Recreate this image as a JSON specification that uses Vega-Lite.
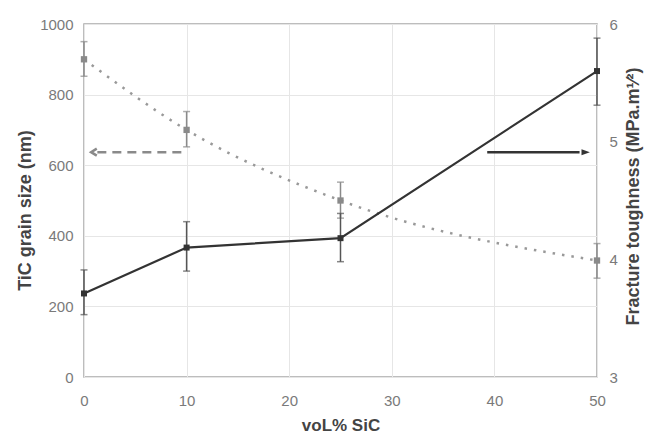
{
  "$schema": "https://vega.github.io/schema/vega-lite/v6.json",
  "width": 513,
  "height": 353,
  "autosize": {"type": "none"},
  "padding": {"left": 84, "top": 24, "right": 48, "bottom": 57},
  "background": "white",
  "config": {
    "view": {"stroke": "#a8a8a8", "strokeWidth": 1.5},
    "font": "Liberation Sans",
    "axis": {
      "labelFont": "Liberation Sans",
      "titleFont": "Liberation Sans",
      "labelFontSize": 15,
      "labelColor": "#7a7a7a",
      "titleFontSize": 17,
      "titleFontWeight": "bold",
      "titleColor": "#444444",
      "ticks": false,
      "domain": false,
      "labelFlush": false,
      "gridColor": "#e6e6e6",
      "gridWidth": 1
    }
  },
  "datasets": {
    "grain": [
      {"vol": 0, "size": 900, "lo": 852, "hi": 950},
      {"vol": 10, "size": 700, "lo": 652, "hi": 752},
      {"vol": 25, "size": 500, "lo": 450, "hi": 552},
      {"vol": 50, "size": 330, "lo": 280, "hi": 378}
    ],
    "tough": [
      {"vol": 0, "k": 3.71, "lo": 3.53, "hi": 3.91},
      {"vol": 10, "k": 4.1, "lo": 3.9, "hi": 4.32},
      {"vol": 25, "k": 4.18, "lo": 3.98, "hi": 4.39},
      {"vol": 50, "k": 5.6, "lo": 5.31, "hi": 5.88}
    ],
    "arrowLeft": [{"x1": 1.3, "x2": 9.7, "y": 637, "head": 0.9}],
    "arrowRight": [{"x1": 39.3, "x2": 48.3, "y": 4.91, "head": 48.9}]
  },
  "layer": [
    {
      "encoding": {
        "x": {
          "type": "quantitative",
          "scale": {"domain": [0, 50], "nice": false},
          "axis": {
            "title": "voL% SiC",
            "values": [0, 10, 20, 30, 40, 50],
            "format": "d",
            "grid": true,
            "labelPadding": 16,
            "titlePadding": 9
          }
        }
      },
      "layer": [
        {
          "data": {"name": "grain"},
          "mark": {"type": "line", "color": "#999999", "strokeWidth": 2.5, "strokeDash": [2.5, 7], "interpolate": "monotone"},
          "encoding": {
            "x": {"field": "vol", "type": "quantitative"},
            "y": {
              "field": "size",
              "type": "quantitative",
              "scale": {"domain": [0, 1000], "nice": false},
              "axis": {
                "title": "TiC grain size (nm)",
                "titleFontSize": 18,
                "titleX": -59,
                "titleY": 186,
                "titleAngle": 270,
                "titleAlign": "center",
                "titleBaseline": "middle",
                "values": [0, 200, 400, 600, 800, 1000],
                "format": "d",
                "grid": true,
                "labelPadding": 11
              }
            }
          }
        },
        {
          "data": {"name": "grain"},
          "mark": {"type": "rule", "color": "#8a8a8a", "strokeWidth": 1.5},
          "encoding": {
            "x": {"field": "vol", "type": "quantitative"},
            "y": {"field": "lo", "type": "quantitative"},
            "y2": {"field": "hi"}
          }
        },
        {
          "data": {"name": "grain"},
          "mark": {"type": "tick", "color": "#8a8a8a", "orient": "horizontal", "size": 7, "thickness": 1.5},
          "encoding": {
            "x": {"field": "vol", "type": "quantitative"},
            "y": {"field": "lo", "type": "quantitative"}
          }
        },
        {
          "data": {"name": "grain"},
          "mark": {"type": "tick", "color": "#8a8a8a", "orient": "horizontal", "size": 7, "thickness": 1.5},
          "encoding": {
            "x": {"field": "vol", "type": "quantitative"},
            "y": {"field": "hi", "type": "quantitative"}
          }
        },
        {
          "data": {"name": "grain"},
          "mark": {"type": "point", "shape": "square", "filled": true, "color": "#8a8a8a", "size": 40, "opacity": 1},
          "encoding": {
            "x": {"field": "vol", "type": "quantitative"},
            "y": {"field": "size", "type": "quantitative"}
          }
        },
        {
          "data": {"name": "arrowLeft"},
          "mark": {"type": "rule", "color": "#8a8a8a", "strokeWidth": 2.5, "strokeDash": [9, 6]},
          "encoding": {
            "x": {"field": "x1", "type": "quantitative"},
            "x2": {"field": "x2"},
            "y": {"field": "y", "type": "quantitative"}
          }
        },
        {
          "data": {"name": "arrowLeft"},
          "mark": {"type": "point", "shape": "M1,-1L-0.6,0L1,1", "filled": false, "color": "#8a8a8a", "strokeWidth": 2.5, "size": 50, "opacity": 1},
          "encoding": {
            "x": {"field": "head", "type": "quantitative"},
            "y": {"field": "y", "type": "quantitative"}
          }
        }
      ]
    },
    {
      "encoding": {
        "x": {"type": "quantitative"}
      },
      "layer": [
        {
          "data": {"name": "tough"},
          "mark": {"type": "line", "color": "#333333", "strokeWidth": 2.2},
          "encoding": {
            "x": {"field": "vol", "type": "quantitative"},
            "y": {
              "field": "k",
              "type": "quantitative",
              "scale": {"domain": [3, 6], "nice": false},
              "axis": {
                "orient": "right",
                "title": "Fracture toughness (MPa.m¹⁄²)",
                "titleFontSize": 18,
                "titleAngle": 270,
                "titleX": 36,
                "titleY": 172,
                "titleAlign": "center",
                "titleBaseline": "middle",
                "values": [3, 4, 5, 6],
                "format": "d",
                "grid": false,
                "labelPadding": 12
              }
            }
          }
        },
        {
          "data": {"name": "tough"},
          "mark": {"type": "rule", "color": "#555555", "strokeWidth": 1.5},
          "encoding": {
            "x": {"field": "vol", "type": "quantitative"},
            "y": {"field": "lo", "type": "quantitative"},
            "y2": {"field": "hi"}
          }
        },
        {
          "data": {"name": "tough"},
          "mark": {"type": "tick", "color": "#555555", "orient": "horizontal", "size": 7, "thickness": 1.5},
          "encoding": {
            "x": {"field": "vol", "type": "quantitative"},
            "y": {"field": "lo", "type": "quantitative"}
          }
        },
        {
          "data": {"name": "tough"},
          "mark": {"type": "tick", "color": "#555555", "orient": "horizontal", "size": 7, "thickness": 1.5},
          "encoding": {
            "x": {"field": "vol", "type": "quantitative"},
            "y": {"field": "hi", "type": "quantitative"}
          }
        },
        {
          "data": {"name": "tough"},
          "mark": {"type": "point", "shape": "square", "filled": true, "color": "#333333", "size": 36, "opacity": 1},
          "encoding": {
            "x": {"field": "vol", "type": "quantitative"},
            "y": {"field": "k", "type": "quantitative"}
          }
        },
        {
          "data": {"name": "arrowRight"},
          "mark": {"type": "rule", "color": "#333333", "strokeWidth": 2.5},
          "encoding": {
            "x": {"field": "x1", "type": "quantitative"},
            "x2": {"field": "x2"},
            "y": {"field": "y", "type": "quantitative"}
          }
        },
        {
          "data": {"name": "arrowRight"},
          "mark": {"type": "point", "shape": "M-1,-0.7L1,0L-1,0.7Z", "filled": true, "color": "#333333", "size": 70, "opacity": 1},
          "encoding": {
            "x": {"field": "head", "type": "quantitative"},
            "y": {"field": "y", "type": "quantitative"}
          }
        }
      ]
    }
  ],
  "resolve": {"scale": {"y": "independent"}, "axis": {"y": "independent"}}
}
